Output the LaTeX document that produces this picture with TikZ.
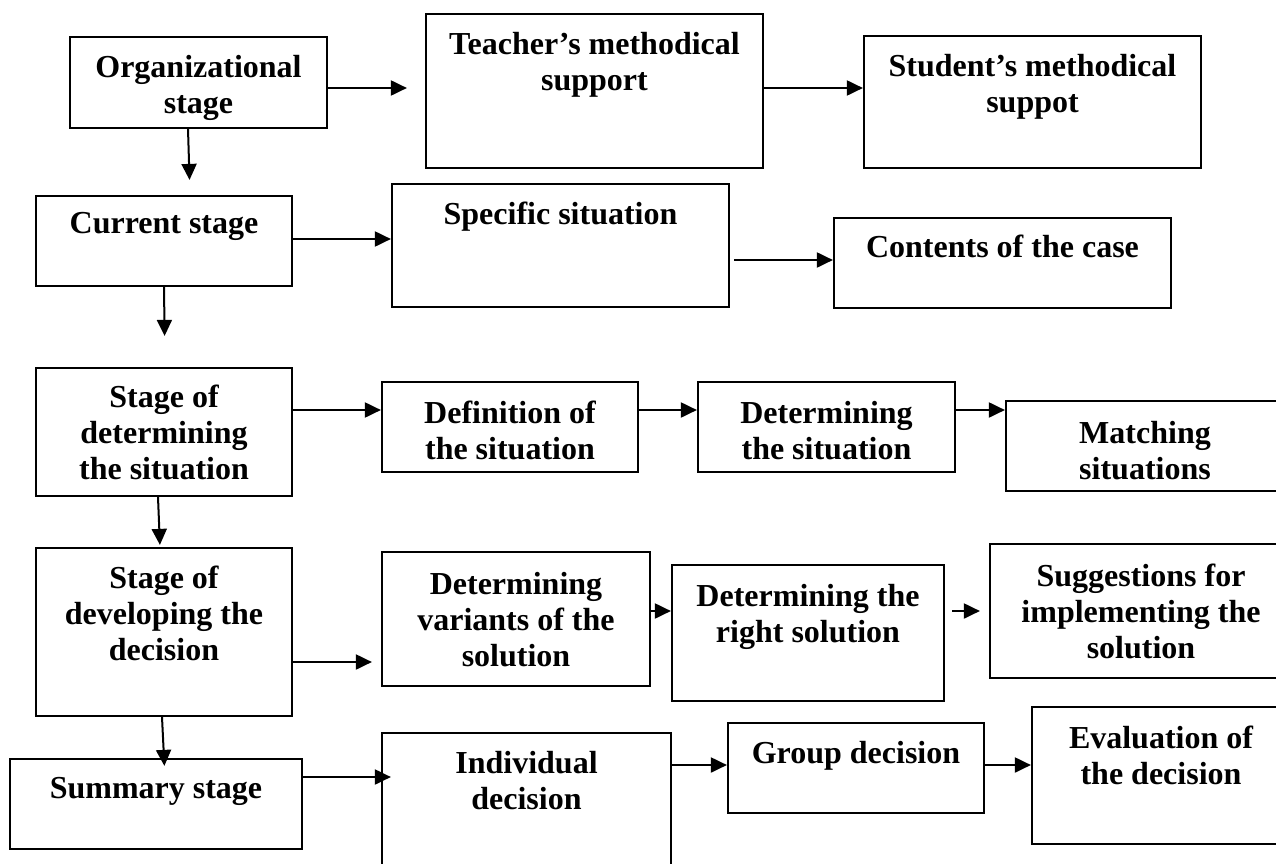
\documentclass[tikz,border=0pt]{standalone}
\usepackage{fontspec}
\setmainfont{Liberation Serif}
\usetikzlibrary{arrows.meta, positioning}

\begin{document}
\begin{tikzpicture}[
    x=1pt, y=-1pt,
    stagebox/.style={draw, rectangle, line width=2.2pt, inner sep=0pt},
    boxtext/.style={font=\bfseries\fontsize{32}{36}\selectfont, align=center, inner sep=0pt},
    arrow/.style={->, >={Triangle[length=16pt, width=15pt]}, line width=2pt}
]
\useasboundingbox (0,0) rectangle (1276,864);
\clip (0,0) rectangle (1276,864);

% Row 1
\node[stagebox, minimum width=257pt, minimum height=91pt] (org) at (198.5,82.5) {};
\node[stagebox, minimum width=337pt, minimum height=154pt] (teacher) at (594.5,91) {};
\node[stagebox, minimum width=337pt, minimum height=132pt] (student) at (1032.5,102) {};
\node[boxtext, below=19pt of org.north] (org-t) {Organizational\\stage};
\node[boxtext, below=19pt of teacher.north] (teacher-t) {Teacher’s methodical\\support};
\node[boxtext, below=19pt of student.north] (student-t) {Student’s methodical\\suppot};

% Row 2
\node[stagebox, minimum width=256pt, minimum height=90pt] (current) at (164,241) {};
\node[stagebox, minimum width=337pt, minimum height=123pt] (specific) at (560.5,245.5) {};
\node[stagebox, minimum width=337pt, minimum height=90pt] (contents) at (1002.5,263) {};
\node[boxtext, below=17pt of current.north] (current-t) {Current stage};
\node[boxtext, below=19pt of specific.north] (specific-t) {Specific situation};
\node[boxtext, below=18pt of contents.north] (contents-t) {Contents of the case};

% Row 3
\node[stagebox, minimum width=256pt, minimum height=128pt] (determ) at (164,432) {};
\node[stagebox, minimum width=256pt, minimum height=90pt] (definition) at (510,427) {};
\node[stagebox, minimum width=257pt, minimum height=90pt] (detsit) at (826.5,427) {};
\node[stagebox, minimum width=278pt, minimum height=90pt] (matching) at (1145,446) {};
\node[boxtext, below=18pt of determ.north] (determ-t) {Stage of\\determining\\the situation};
\node[boxtext, below=20pt of definition.north] (definition-t) {Definition of\\the situation};
\node[boxtext, below=20pt of detsit.north] (detsit-t) {Determining\\the situation};
\node[boxtext, below=21pt of matching.north] (matching-t) {Matching\\situations};

% Row 4
\node[stagebox, minimum width=256pt, minimum height=168pt] (develop) at (164,632) {};
\node[stagebox, minimum width=268pt, minimum height=134pt] (variants) at (516,619) {};
\node[stagebox, minimum width=272pt, minimum height=136pt] (rightsol) at (808,633) {};
\node[stagebox, minimum width=302pt, minimum height=134pt] (suggest) at (1141,611) {};
\node[boxtext, below=19pt of develop.north] (develop-t) {Stage of\\developing the\\decision};
\node[boxtext, below=21pt of variants.north] (variants-t) {Determining\\variants of the\\solution};
\node[boxtext, below=20pt of rightsol.north] (rightsol-t) {Determining the\\right solution};
\node[boxtext, below=21pt of suggest.north] (suggest-t) {Suggestions for\\implementing the\\solution};

% Row 5
\node[stagebox, minimum width=292pt, minimum height=90pt] (summary) at (156,804) {};
\node[stagebox, minimum width=289pt, minimum height=167pt] (individual) at (526.5,816.5) {};
\node[stagebox, minimum width=256pt, minimum height=90pt] (group) at (856,768) {};
\node[stagebox, minimum width=258pt, minimum height=137pt] (evaluation) at (1161,775.5) {};
\node[boxtext, below=19pt of summary.north] (summary-t) {Summary stage};
\node[boxtext, below=19pt of individual.north] (individual-t) {Individual\\decision};
\node[boxtext, below=19pt of group.north] (group-t) {Group decision};
\node[boxtext, below=20pt of evaluation.north] (evaluation-t) {Evaluation of\\the decision};

% Down the stages
\draw[arrow, shorten >=15pt] ([xshift=-10.5pt]org.south) -- ([xshift=-8.5pt]org.south |- current.north);
\draw[arrow, shorten >=31pt] (current.south) -- ([xshift=1pt]current.south |- determ.north);
\draw[arrow, shorten >=2pt] ([xshift=-6pt]determ.south) -- ([xshift=-4pt]determ.south |- develop.north);
\draw[arrow, shorten >=-8pt] ([xshift=-2pt]develop.south) -- (develop.south |- summary.north);

% Across the rows
\draw[arrow, shorten >=18pt] ([yshift=-5.5pt]org.east) -- ([yshift=-5.5pt]org.east -| teacher.west);
\draw[arrow] ([yshift=3pt]teacher.east) -- ([yshift=3pt]teacher.east -| student.west);
\draw[arrow] ([yshift=2pt]current.east) -- ([yshift=2pt]current.east -| specific.west);
\draw[arrow, shorten <=4pt] ([yshift=-14.5pt]specific.east) -- ([yshift=-14.5pt]specific.east -| contents.west);
\draw[arrow] ([yshift=22pt]determ.east) -- ([yshift=22pt]determ.east -| definition.west);
\draw[arrow] ([yshift=17pt]definition.east) -- ([yshift=17pt]definition.east -| detsit.west);
\draw[arrow] ([yshift=17pt]detsit.east) -- ([yshift=17pt]detsit.east -| matching.west);
\draw[arrow, shorten >=9pt] ([yshift=-30pt]develop.east) -- ([yshift=-30pt]develop.east -| variants.west);
\draw[arrow] ([yshift=8pt]variants.east) -- ([yshift=8pt]variants.east -| rightsol.west);
\draw[arrow, shorten <=7pt, shorten >=9pt] ([yshift=22pt]rightsol.east) -- ([yshift=22pt]rightsol.east -| suggest.west);
\draw[arrow, shorten >=-10pt] ([yshift=27pt]summary.east) -- ([yshift=27pt]summary.east -| individual.west);
\draw[arrow] ([yshift=3pt]group.west -| individual.east) -- ([yshift=3pt]group.west);
\draw[arrow] ([yshift=3pt]group.east) -- ([yshift=3pt]group.east -| evaluation.west);

\end{tikzpicture}
\end{document}
